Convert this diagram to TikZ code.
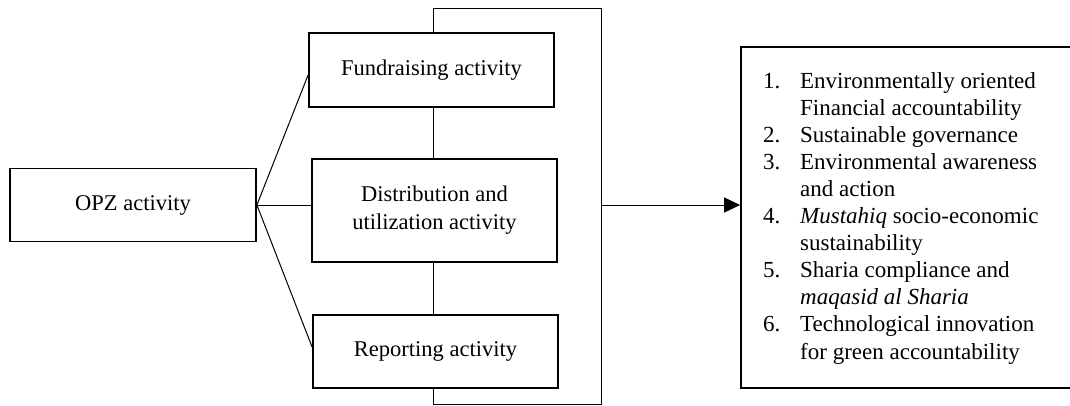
\documentclass[tikz,border=0pt]{standalone}
\usepackage{fontspec}
\setmainfont{Liberation Serif}
\usetikzlibrary{arrows.meta}

\begin{document}
\begin{tikzpicture}[
  x=1pt, y=-1pt,
  box/.style={draw, line width=1.8pt, align=center, inner sep=0pt, font=\fontsize{22.5}{28}\selectfont},
  link/.style={line width=1pt}
]
\useasboundingbox (0,0) rectangle (1070,405);
\node[box, minimum width=246pt, minimum height=73pt] (opz) at (133,205) {OPZ activity};
\node[box, minimum width=245pt, minimum height=74pt] (fund) at (431.5,70) {Fundraising activity};
\node[box, minimum width=245pt, minimum height=103pt] (dist) at (434.5,210.5) {Distribution and\\utilization activity};
\node[box, minimum width=245pt, minimum height=73pt] (rep) at (435.5,351.5) {Reporting activity};
\node[box, minimum width=336pt, minimum height=341pt] (out) at (909,217.5) {};
\node[anchor=west, align=left, inner sep=0pt, font=\fontsize{23}{27.1}\selectfont] (list) at (763,218) {%
  \makebox[37pt][l]{1.}Environmentally oriented\\
  \hspace*{37pt}Financial accountability\\
  \makebox[37pt][l]{2.}Sustainable governance\\
  \makebox[37pt][l]{3.}Environmental awareness\\
  \hspace*{37pt}and action\\
  \makebox[37pt][l]{4.}\textit{Mustahiq} socio-economic\\
  \hspace*{37pt}sustainability\\
  \makebox[37pt][l]{5.}Sharia compliance and\\
  \hspace*{37pt}\textit{maqasid al Sharia}\\
  \makebox[37pt][l]{6.}Technological innovation\\
  \hspace*{37pt}for green accountability};
\coordinate (tl) at (433,8);
\coordinate (tr) at (601,8);
\coordinate (br) at (601,404);
\coordinate (bl) at (433,404);
\coordinate (mid) at (601,205);
\draw[link] (fund.north -| tl) -- (tl) -- (tr) -- (br) -- (bl) -- (rep.south -| bl);
\draw[link] (fund.south -| tl) -- (dist.north -| tl);
\draw[link] (dist.south -| tl) -- (rep.north -| tl);
\draw[link] (opz.east) -- ([yshift=-5pt]fund.west);
\draw[link] (opz.east) -- (dist.west |- opz.east);
\draw[link] (opz.east) -- ([yshift=4.5pt]rep.west);
\draw[link, -{Triangle[length=16pt,width=15pt]}] (mid) -- (out.west |- mid);
\end{tikzpicture}
\end{document}
